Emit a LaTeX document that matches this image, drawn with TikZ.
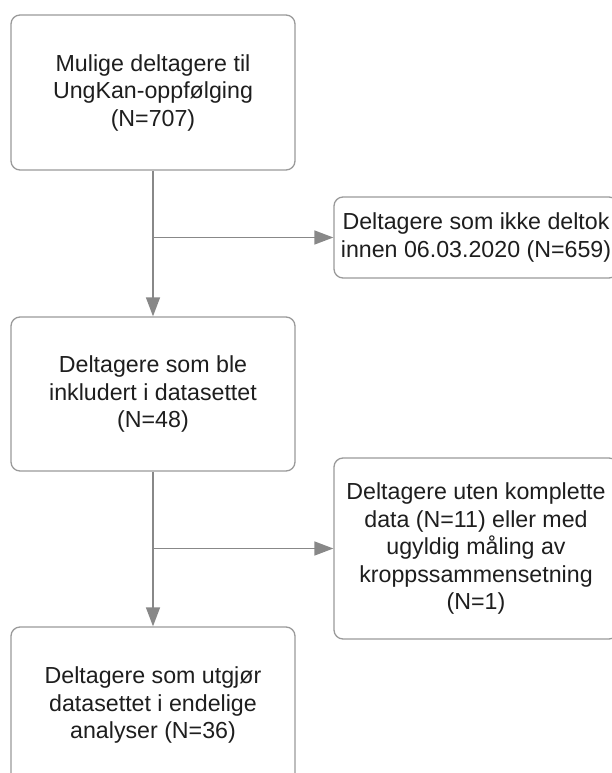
\documentclass[tikz,border=0pt]{standalone}
\usepackage{fontspec}
\setmainfont{Liberation Sans}
\usetikzlibrary{arrows.meta}
\definecolor{boxline}{HTML}{9A9A9A}
\definecolor{arrowgray}{HTML}{888888}
\definecolor{txt}{HTML}{1E1E1E}
\begin{document}
\begin{tikzpicture}[x=1pt,y=-1pt,
  box/.style={draw=boxline,line width=1.3pt,rounded corners=9pt,fill=white,
    text=txt,align=center,inner sep=0pt,
    font=\fontsize{23.2}{27.5}\selectfont},
  conn/.style={draw=arrowgray,line width=1.5pt},
  arr/.style={conn,-{Triangle[length=19pt,width=14pt]}}]
\useasboundingbox (0,0) rectangle (612,773);
\node[box,minimum width=284pt,minimum height=155pt] (b1) at (153,92.5)
  {Mulige deltagere til\\UngKan-oppfølging\\(N=707)};
\node[box,minimum width=284pt,minimum height=81pt] (r1) at (476,237.5)
  {Deltagere som ikke deltok\\innen 06.03.2020 (N=659)};
\node[box,minimum width=284pt,minimum height=154pt] (b2) at (153,394)
  {Deltagere som ble\\inkludert i datasettet\\(N=48)};
\node[box,minimum width=284pt,minimum height=181pt] (r2) at (476,548.5)
  {Deltagere uten komplette\\data (N=11) eller med\\ugyldig måling av\\kroppssammensetning\\(N=1)};
\node[box,minimum width=284pt,minimum height=156pt] (b3) at (153,705)
  {Deltagere som utgjør\\datasettet i endelige\\analyser (N=36)};
\coordinate (j1) at (b1.south |- r1.west);
\coordinate (j2) at (b2.south |- r2.west);
\draw[arr] (b1.south) -- (b2.north);
\draw[arr] (j1) -- (r1.west);
\draw[arr] (b2.south) -- (b3.north);
\draw[arr] (j2) -- (r2.west);
\end{tikzpicture}
\end{document}
